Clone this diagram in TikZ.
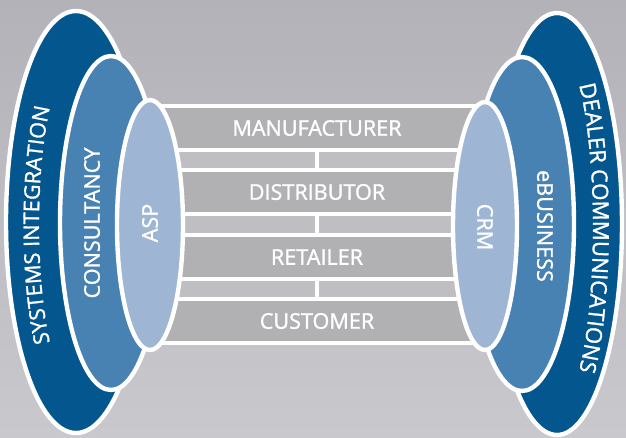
\documentclass[tikz,border=0pt]{standalone}
\usepackage{fontspec}
\setmainfont{Open Sans}
\newfontfamily\schriftart{Open Sans}[BoldFont={Open Sans}, BoldFeatures={FakeBold=1.3}]
\usetikzlibrary{decorations.text}
\definecolor{dunkelblau}{RGB}{3,86,142}
\definecolor{mittelblau}{RGB}{72,130,178}
\definecolor{hellblau}{RGB}{158,182,212}
\definecolor{balkengrau}{RGB}{177,177,179}
\definecolor{streifengrau}{RGB}{191,191,195}
\definecolor{hgoben}{RGB}{178,178,184}
\definecolor{hgunten}{RGB}{200,200,205}

\begin{document}
\begin{tikzpicture}[x=0.02cm, y=-0.02cm,
  ring/.style={draw=white, line width=2.5pt},
  balken/.style={draw=white, line width=2.5pt, fill=balkengrau, minimum width=6.68cm,
    minimum height=0.88cm, inner sep=0pt, outer sep=0pt, text=white,
    font=\schriftart\bfseries\fontsize{12.3}{14}\selectfont},
  streifen/.style={draw=white, line width=2.5pt, fill=streifengrau},
  schrift/.style={text=white, font=\schriftart\bfseries\fontsize{12.3}{14}\selectfont, inner sep=0pt},
  bogen/.style={decorate, decoration={text along path, text align=center, text color=white}}]
% background
\useasboundingbox (0,0) rectangle (626,437);
\shade[top color=hgoben, bottom color=hgunten] (0,0) rectangle (626,437);
% outer rings
\draw[ring, fill=dunkelblau] (76,222) ellipse [x radius=70, y radius=211];
\draw[ring, fill=dunkelblau] (557,224) ellipse [x radius=65, y radius=211];
% middle rings
\draw[ring, fill=mittelblau] (111,223) ellipse [x radius=51, y radius=167];
\draw[ring, fill=mittelblau] (522,224) ellipse [x radius=52, y radius=167];
% strips between the bars
\foreach \oben/\unten in {150/170, 214/235, 279/299} {
  \draw[streifen] (150,\oben) rectangle (317,\unten);
  \draw[streifen] (317,\oben) rectangle (484,\unten);
}
% chain
\node[balken] (manufacturer) at (317,128) {MANUFACTURER};
\node[balken] (distributor) at (317,192) {DISTRIBUTOR};
\node[balken] (retailer) at (317,257) {RETAILER};
\node[balken] (customer) at (317,321) {CUSTOMER};
% inner rings
\draw[ring, fill=hellblau] (150,225) ellipse [x radius=33, y radius=125];
\draw[ring, fill=hellblau] (485,226) ellipse [x radius=32, y radius=124];
% labels
\path[bogen, decoration={text={|\schriftart\bfseries\fontsize{12.3}{14}\selectfont|SYSTEMS INTEGRATION}}]
  (54.78,360.98) arc[start angle=125, end angle=235, x radius=37, y radius=166];
\path[bogen, decoration={text={|\schriftart\bfseries\fontsize{12.6}{14}\selectfont|DEALER COMMUNICATIONS}}]
  (575,71.25) arc[start angle=-60, end angle=60, x radius=36, y radius=181];
\node[schrift, rotate=90] (beratung) at (92,223) {CONSULTANCY};
\node[schrift, rotate=90] (asp) at (150,223) {ASP};
\node[schrift, rotate=-90] (crm) at (485,227) {CRM};
\node[schrift, rotate=-90] (ebusiness) at (545,226) {eBUSINESS};

\end{tikzpicture}
\end{document}
